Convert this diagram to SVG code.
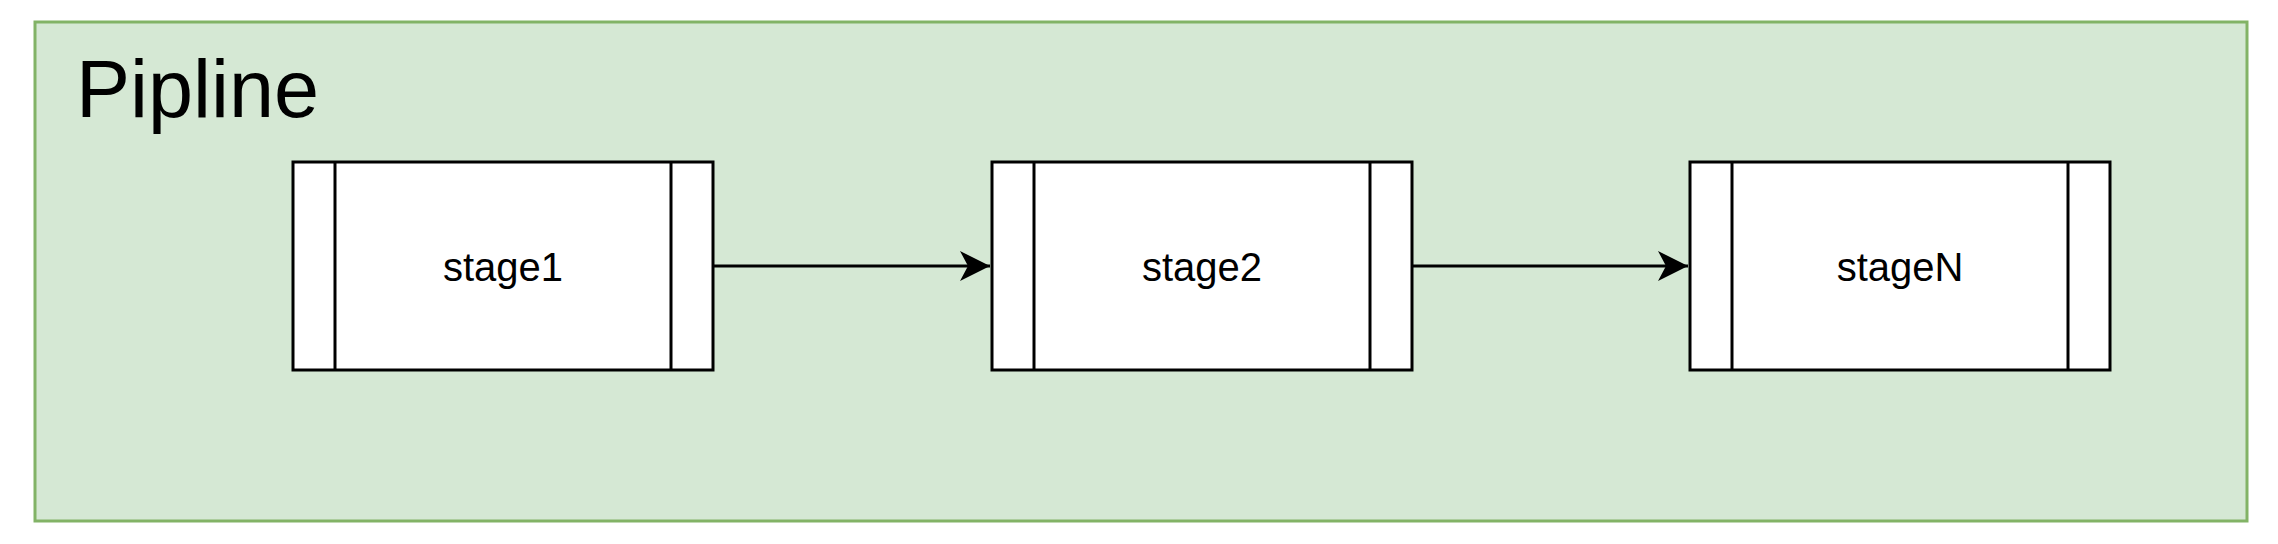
<svg xmlns="http://www.w3.org/2000/svg" width="2278" height="544" viewBox="0 0 2278 544">
<style>
.node rect{fill:#ffffff;stroke:#000000;stroke-width:3}
.node line{stroke:#000000;stroke-width:3}
.label{font-family:"Liberation Sans",Arial,sans-serif;font-size:40px;fill:#000000;text-anchor:middle}
.edge{stroke:#000000;stroke-width:3;fill:none}
</style>
<defs>
<marker id="arrow" markerUnits="userSpaceOnUse" markerWidth="40" markerHeight="40" viewBox="0 0 40 40" refX="30" refY="20" orient="auto">
<path d="M0,5 L30,20 L0,35 L8,20 Z" fill="#000000"/>
</marker>
</defs>
<g id="pipeline">
<rect x="35" y="22" width="2212" height="499" fill="#d5e8d4" stroke="#82b366" stroke-width="3"/>
<text x="76" y="117" font-family="'Liberation Sans',Arial,sans-serif" font-size="81" fill="#000000">Pipline</text>
</g>
<g id="stage1" class="node">
<rect x="293" y="162" width="420" height="208"/>
<line x1="335" y1="162" x2="335" y2="370"/>
<line x1="671" y1="162" x2="671" y2="370"/>
<text class="label" x="503" y="281">stage1</text>
</g>
<g id="stage2" class="node">
<rect x="992" y="162" width="420" height="208"/>
<line x1="1034" y1="162" x2="1034" y2="370"/>
<line x1="1370" y1="162" x2="1370" y2="370"/>
<text class="label" x="1202" y="281">stage2</text>
</g>
<g id="stageN" class="node">
<rect x="1690" y="162" width="420" height="208"/>
<line x1="1732" y1="162" x2="1732" y2="370"/>
<line x1="2068" y1="162" x2="2068" y2="370"/>
<text class="label" x="1900" y="281">stageN</text>
</g>
<g id="connectors">
<line class="edge" x1="713" y1="266" x2="990" y2="266" marker-end="url(#arrow)"/>
<line class="edge" x1="1412" y1="266" x2="1688" y2="266" marker-end="url(#arrow)"/>
</g>
</svg>
